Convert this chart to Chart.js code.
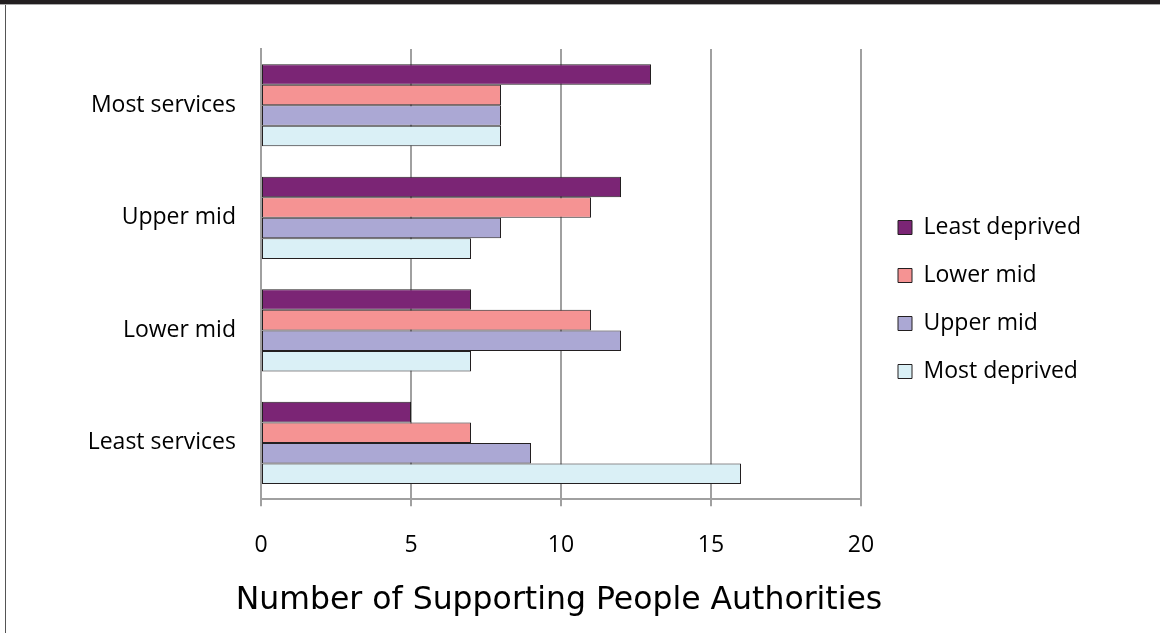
<!DOCTYPE html>
<html>
<head>
<meta charset="utf-8">
<script src="https://cdn.jsdelivr.net/npm/chart.js@4.4.1/dist/chart.umd.min.js"></script>
<style>
html, body { margin: 0; padding: 0; background: #fff; }
#wrap { position: relative; width: 1160px; height: 633px; overflow: hidden; }
#faixa { position: absolute; left: 0; top: 0; width: 1160px; height: 4px; background: #231f20; border-bottom: 1px solid #aaa; }
#borda { position: absolute; left: 5px; top: 5px; width: 1px; height: 628px; background: #555; }
canvas { position: absolute; left: 0; top: 0; }
</style>
</head>
<body>
<div id="wrap">
  <canvas id="grafico" width="1160" height="633"></canvas>
  <div id="faixa"></div>
  <div id="borda"></div>
</div>
<script>
// dados
const categorias = ['Most services', 'Upper mid', 'Lower mid', 'Least services'];
const nomesSeries = ['Least deprived', 'Lower mid', 'Upper mid', 'Most deprived'];
const leastDeprived = [13, 12, 7, 5];
const lowerMid = [8, 11, 11, 7];
const upperMid = [8, 8, 12, 9];
const mostDeprived = [8, 7, 7, 16];
const ticksX = [0, 5, 10, 15, 20];
const tituloX = 'Number of Supporting People Authorities';

const cores = ['#7b2575', '#f59393', '#aba8d4', '#daf0f6'];
const valores = [leastDeprived, lowerMid, upperMid, mostDeprived];
const cinza = '#a0a0a0';

Chart.defaults.font.family = "'Open Sans', sans-serif";
Chart.defaults.color = '#000';

// empurra a legenda e o titulo para o lugar certo
const ajustarCaixas = {
    id: 'ajustarCaixas',
    afterLayout(chart) {
        const lg = chart.legend;
        const pad = lg.options.labels.padding;
        lg.left = 898 - pad;
        lg.right = lg.left + 260;
        lg.top = 216 - pad;
        lg.bottom = lg.top + 300;

        // titulo do eixo mais largo que a area do grafico
        const t = chart.titleBlock;
        t.left = 229;
        t.right = 889;
    }
};

function criarGrafico(idCanvas) {
    const ctx = document.getElementById(idCanvas).getContext('2d');

    return new Chart(ctx, {
        type: 'bar',
        data: {
            labels: categorias,
            datasets: nomesSeries.map((nome, i) => ({
                label: nome,
                data: valores[i],
                backgroundColor: cores[i],
                borderColor: '#231f20',
                borderWidth: 1,
                borderSkipped: false,
                categoryPercentage: 0.73,
                barPercentage: 1.0
            }))
        },
        options: {
            indexAxis: 'y',
            responsive: false,
            animation: false,
            layout: { padding: { left: 0, top: 49, right: 299, bottom: 13 } },
            plugins: {
                legend: {
                    position: 'chartArea',
                    align: 'start',
                    labels: {
                        boxWidth: 14,
                        boxHeight: 14,
                        padding: 25,
                        color: '#000',
                        font: { size: 23 }
                    }
                },
                title: {
                    display: true,
                    position: 'bottom',
                    text: tituloX,
                    color: '#000',
                    font: { size: 31.5, weight: 'normal', family: "'DejaVu Sans', sans-serif" },
                    padding: 0
                },
                tooltip: { enabled: false }
            },
            scales: {
                x: {
                    min: 0,
                    max: 20,
                    afterBuildTicks: s => { s.ticks = ticksX.map(v => ({ value: v })); },
                    afterFit: s => { s.height = 83; },
                    ticks: { color: '#000', font: { size: 23 }, padding: 25 },
                    grid: { color: cinza, lineWidth: 2, tickLength: 7 },
                    border: { color: cinza, width: 2 }
                },
                y: {
                    ticks: { color: '#000', font: { size: 23 }, padding: 25 },
                    grid: { display: false, drawTicks: false },
                    border: { color: cinza, width: 2 },
                    afterFit: s => { s.width = 261; }
                }
            }
        },
        plugins: [ajustarCaixas]
    });
}

criarGrafico('grafico');
</script>
</body>
</html>
